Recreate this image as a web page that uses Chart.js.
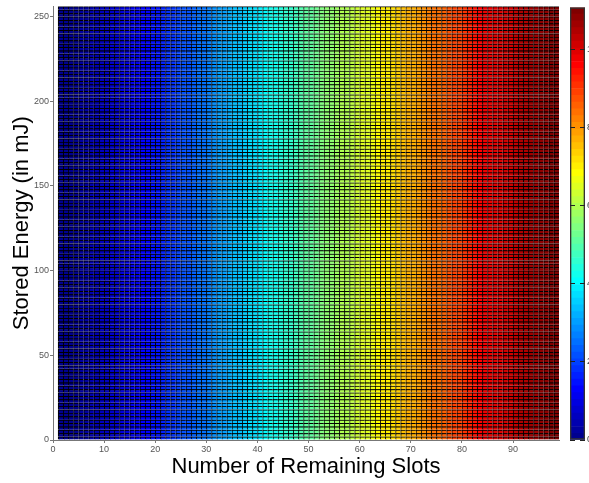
<!DOCTYPE html>
<html>
<head>
<meta charset="utf-8">
<script src="https://cdn.jsdelivr.net/npm/chart.js@4/dist/chart.umd.min.js"></script>
<style>
    html, body { margin: 0; padding: 0; background: #fff; }
    #wrap { position: relative; width: 589px; height: 483px; overflow: hidden; }
    #main { position: absolute; left: 0; top: 0; }
    #cbar { position: absolute; left: 560px; top: 0; }
</style>
</head>
<body>
<div id="wrap">
    <canvas id="main" width="589" height="483" style="width:589px;height:483px"></canvas>
    <canvas id="cbar" width="50" height="483" style="width:50px;height:483px"></canvas>
</div>
<script>
// Cell edges along x (remaining slots) and y (stored energy, mJ)
const xEdges = [1,2,3,4,5,6,7,8,9,10,11,12,13,14,15,16,17,18,19,20,21,22,23,24,25,26,27,28,29,30,
    31,32,33,34,35,36,37,38,39,40,41,42,43,44,45,46,47,48,49,50,51,52,53,54,55,56,57,58,59,60,
    61,62,63,64,65,66,67,68,69,70,71,72,73,74,75,76,77,78,79,80,81,82,83,84,85,86,87,88,89,90,
    91,92,93,94,95,96,97,98,99];
const yEdges = [0,2,4,6,8,10,12,14,16,18,20,22,24,26,28,30,32,34,36,38,40,42,44,46,48,50,52,54,56,58,
    60,62,64,66,68,70,72,74,76,78,80,82,84,86,88,90,92,94,96,98,100,102,104,106,108,110,112,114,116,118,
    120,122,124,126,128,130,132,134,136,138,140,142,144,146,148,150,152,154,156,158,160,162,164,166,168,170,172,174,176,178,
    180,182,184,186,188,190,192,194,196,198,200,202,204,206,208,210,212,214,216,218,220,222,224,226,228,230,232,234,236,238,
    240,242,244,246,248,250,252,254,256];

// Colour value of each column (same for every energy row)
const cellValues = [0.00,0.00,0.08,0.16,0.24,0.33,0.41,0.49,0.57,0.65,
    0.73,0.81,0.90,0.98,1.06,1.14,1.22,1.30,1.39,1.51,
    1.63,1.75,1.87,1.99,2.11,2.23,2.35,2.47,2.59,2.71,
    2.83,2.95,3.07,3.19,3.31,3.43,3.55,3.67,3.79,3.91,
    4.03,4.16,4.28,4.41,4.53,4.66,4.78,4.91,5.04,5.16,
    5.29,5.41,5.54,5.67,5.79,5.92,6.04,6.17,6.30,6.42,
    6.55,6.67,6.80,6.93,7.06,7.20,7.34,7.48,7.62,7.76,
    7.89,8.03,8.17,8.31,8.45,8.59,8.73,8.86,9.00,9.14,
    9.28,9.42,9.56,9.70,9.79,9.89,9.99,10.09,10.19,10.29,
    10.39,10.49,10.58,10.68,10.78,10.88,10.98,11.07];

const xTicks = [0,10,20,30,40,50,60,70,80,90];
const yTicks = [0,50,100,150,200,250];
const colorTicks = [0,2,4,6,8,10];
const colorMin = 0;
const colorMax = 11.08;

Chart.defaults.font.family = "'Liberation Sans', Arial, sans-serif";

// MATLAB-style 64 level jet colormap
const levels = 64;
function jetIndex(i) {
    const t = (i + 1) / levels;
    const c = v => Math.round(Math.max(0, Math.min(1, v)) * 255);
    return `rgb(${c(1.5 - Math.abs(4 * t - 3))},${c(1.5 - Math.abs(4 * t - 2))},${c(1.5 - Math.abs(4 * t - 1))})`;
}
function jetColor(v) {
    let i = Math.floor((v - colorMin) / (colorMax - colorMin) * levels);
    return jetIndex(Math.max(0, Math.min(levels - 1, i)));
}

const tickFont = { size: 9 };
const fixedTicks = list => s => { s.ticks = list.map(v => ({ value: v })); };

// One dataset per column, one floating bar per energy row
const datasets = cellValues.map((v, j) => ({
    data: yEdges.slice(0, -1).map((y0, k) => ({
        x: (xEdges[j] + xEdges[j + 1]) / 2,
        y: [y0, yEdges[k + 1]]
    })),
    backgroundColor: jetColor(v),
    borderColor: '#000',
    borderWidth: { left: 1.1, top: 1.3, right: 0, bottom: 0 },
    borderSkipped: false,
    grouped: false,
    barPercentage: 1,
    categoryPercentage: 1
}));

new Chart(document.getElementById('main'), {
    type: 'bar',
    data: { datasets },
    options: {
        responsive: false,
        animation: false,
        events: [],
        layout: { padding: { top: 6, right: 30, left: 0, bottom: 0 } },
        plugins: { legend: { display: false }, tooltip: { enabled: false } },
        scales: {
            x: {
                type: 'linear',
                min: 0,
                max: 99,
                offset: false,
                ticks: { font: tickFont, color: '#555', padding: 1, maxRotation: 0, autoSkip: false },
                afterBuildTicks: fixedTicks(xTicks),
                afterFit: s => { s.height = 43; },
                grid: { drawOnChartArea: false, tickLength: 3, color: '#777', offset: false },
                border: { color: '#777' },
                title: { display: true, text: 'Number of Remaining Slots', font: { size: 22 }, color: '#000', padding: { top: 0, bottom: 3 } }
            },
            y: {
                type: 'linear',
                min: 0,
                max: 256,
                ticks: { font: tickFont, color: '#555', padding: 1, autoSkip: false },
                afterBuildTicks: fixedTicks(yTicks),
                afterFit: s => { s.width = 53; },
                grid: { drawOnChartArea: false, tickLength: 3, color: '#777' },
                border: { color: '#777' },
                title: { display: true, text: 'Stored Energy (in mJ)', font: { size: 22 }, color: '#000', padding: { top: 9, bottom: 0 } }
            }
        }
    }
});

// Colour bar: outline first so it is drawn on top, then the 64 levels
const step = (colorMax - colorMin) / levels;
const barSets = [{
    data: [[colorMin, colorMax]],
    backgroundColor: 'rgba(0,0,0,0)',
    borderColor: '#333',
    borderWidth: 1,
    borderSkipped: false,
    grouped: false
}];
for (let i = 0; i < levels; i++) {
    barSets.push({
        data: [[colorMin + i * step, colorMin + (i + 1) * step]],
        backgroundColor: jetIndex(i),
        borderWidth: 0,
        grouped: false
    });
}

new Chart(document.getElementById('cbar'), {
    type: 'bar',
    data: { labels: [''], datasets: barSets },
    options: {
        responsive: false,
        animation: false,
        events: [],
        barPercentage: 1,
        categoryPercentage: 1,
        layout: { padding: { top: 5, left: 10, right: 0, bottom: 43 } },
        plugins: { legend: { display: false }, tooltip: { enabled: false } },
        scales: {
            x: { display: false },
            y: {
                position: 'right',
                min: colorMin,
                max: colorMax,
                ticks: { font: tickFont, color: '#333', padding: 2, autoSkip: false },
                afterBuildTicks: fixedTicks(colorTicks),
                afterFit: s => { s.width = 25; },
                grid: { drawTicks: false, color: '#222', z: 1 },
                border: { display: false, dash: [5, 5] }
            }
        }
    }
});
</script>
</body>
</html>
